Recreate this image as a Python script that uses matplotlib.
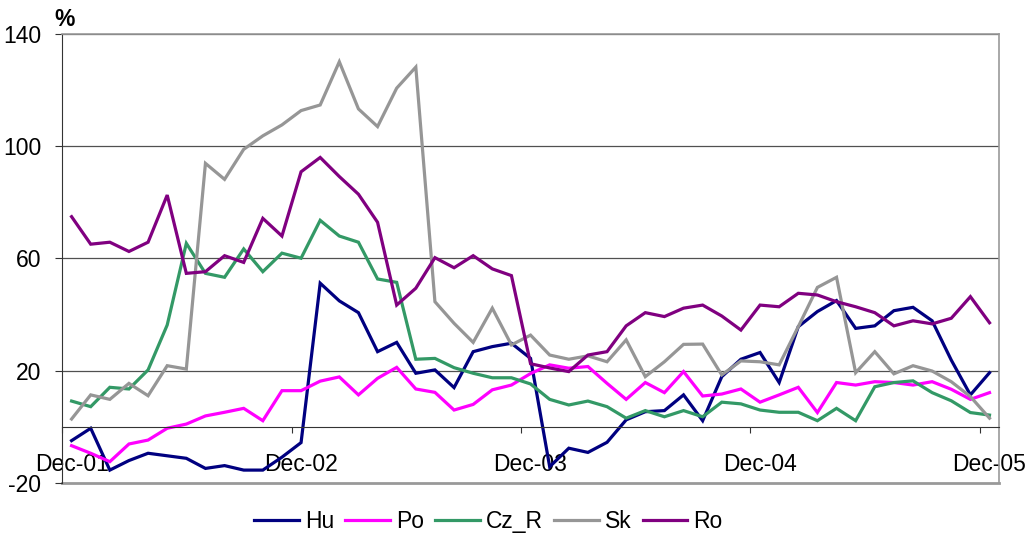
import numpy as np
import matplotlib
matplotlib.use("Agg")
import matplotlib.pyplot as plt
from matplotlib.ticker import FixedLocator

plt.rcParams['font.family'] = ['Liberation Sans', 'DejaVu Sans']
plt.rcParams['axes.unicode_minus'] = False

# ===== Data (monthly, Dec-01 .. Dec-05) =====
month_labels = ["Dec-01", "Dec-02", "Dec-03", "Dec-04", "Dec-05"]

hu = [-4.9, -0.5, -15.4, -12.0, -9.4, -10.3, -11.2, -14.8, -13.8, -15.4, -15.4, -10.8,
      -5.6, 51.2, 44.9, 40.7, 26.8, 30.1, 19.1, 20.3, 14.0, 26.8, 28.6, 29.8,
      24.4, -14.2, -7.6, -9.1, -5.5, 2.5, 5.4, 5.8, 11.4, 2.2, 17.9, 24.1,
      26.5, 15.8, 35.7, 41.1, 45.0, 35.1, 36.0, 41.4, 42.6, 37.8, 23.8, 11.4,
      19.3]
po = [-6.7, -9.4, -12.4, -6.1, -4.7, -0.5, 1.0, 3.9, 5.2, 6.6, 2.2, 12.9,
      12.9, 16.3, 17.8, 11.4, 17.3, 21.2, 13.5, 12.3, 6.0, 8.0, 13.2, 14.9,
      19.0, 22.1, 20.9, 21.5, 15.5, 9.8, 15.8, 12.2, 19.7, 11.0, 11.7, 13.5,
      8.8, 11.4, 14.1, 5.1, 15.8, 14.9, 16.1, 15.8, 14.9, 16.1, 13.4, 9.8,
      12.2]
cz_r = [9.2, 7.2, 14.1, 13.5, 20.3, 36.3, 65.4, 54.7, 53.3, 63.4, 55.3, 61.9,
        60.1, 73.6, 68.0, 65.8, 52.7, 51.5, 24.1, 24.4, 21.1, 19.1, 17.5, 17.5,
        15.3, 9.8, 7.8, 9.2, 7.2, 3.1, 5.8, 3.6, 5.8, 3.6, 8.8, 8.2,
        6.0, 5.2, 5.2, 2.2, 6.6, 2.2, 14.3, 15.8, 16.4, 12.2, 9.3, 5.1,
        4.2]
sk = [2.8, 11.4, 9.8, 15.5, 11.1, 21.8, 20.6, 93.9, 88.2, 98.9, 103.7, 107.6,
      112.7, 114.7, 130.1, 113.3, 107.0, 120.7, 128.2, 44.6, 36.9, 30.1, 42.3, 29.2,
      32.7, 25.6, 24.1, 25.3, 23.2, 31.0, 17.9, 23.2, 29.4, 29.5, 18.5, 23.5,
      23.2, 22.1, 35.7, 49.7, 53.3, 19.3, 26.8, 18.9, 21.8, 19.9, 16.1, 10.8,
      3.1]
ro = [74.9, 65.1, 65.8, 62.5, 65.8, 82.6, 54.7, 55.3, 61.0, 58.6, 74.3, 68.0,
      90.9, 96.0, 89.2, 82.9, 72.9, 43.4, 49.4, 60.3, 56.7, 61.0, 56.3, 53.9,
      22.5, 21.0, 19.7, 25.6, 26.8, 36.0, 40.7, 39.3, 42.3, 43.4, 39.5, 34.5,
      43.4, 42.8, 47.6, 47.0, 44.6, 42.8, 40.7, 36.0, 37.8, 36.7, 38.7, 46.4,
      37.1]

series = [("Hu", hu, "#000080"), ("Po", po, "#FF00FF"), ("Cz_R", cz_r, "#339966"),
          ("Sk", sk, "#969696"), ("Ro", ro, "#800080")]

x = np.arange(len(hu))

# ===== Plot =====
fig = plt.figure(figsize=(10.32, 5.41), dpi=100)
ax = fig.add_axes([0.0601, 0.1072, 0.908, 0.830])

for name, vals, col in series:
    ax.plot(x, vals, color=col, lw=2.3, label=name, solid_joinstyle='miter')

ax.set_xlim(-0.5, len(x) - 0.5)
ax.set_ylim(-20, 140)
ax.set_yticks([-20, 20, 60, 100, 140])
for g in [20, 60, 100, 140]:
    ax.axhline(g, color="#505050", lw=0.9, zorder=0)

# frame
for s in ["top", "right"]:
    ax.spines[s].set_color("#999999")
    ax.spines[s].set_linewidth(1.2)
ax.spines["left"].set_color("#333333")
ax.spines["bottom"].set_position(("data", 0))
ax.spines["bottom"].set_color("#333333")
ax.axhline(-20, color="#999999", lw=2.0, clip_on=False, zorder=0)

# category axis: ticks between months, labels on Dec months
ax.xaxis.set_major_locator(FixedLocator(np.arange(-0.5, len(x), 12)))
ax.xaxis.set_minor_locator(FixedLocator(np.arange(0, len(x), 12)))
ax.set_xticklabels([], minor=False)
ax.set_xticklabels(month_labels, minor=True)
ax.tick_params(axis="x", which="major", length=4, direction="out", color="#333333")
ax.tick_params(axis="x", which="minor", length=0, pad=19, labelsize=16.5)
ax.tick_params(axis="y", length=5, color="#333333", pad=10, labelsize=16.5)

fig.text(0.053, 0.985, "%", fontsize=16.5, fontweight="bold", va="top", ha="left")

ax.legend(loc="upper center", bbox_to_anchor=(0.455, -0.025), ncol=5, frameon=False,
          fontsize=16.5, handlelength=1.95, handletextpad=0.25, columnspacing=0.5,
          borderpad=0.2)

fig.savefig("out.png", dpi=100)
